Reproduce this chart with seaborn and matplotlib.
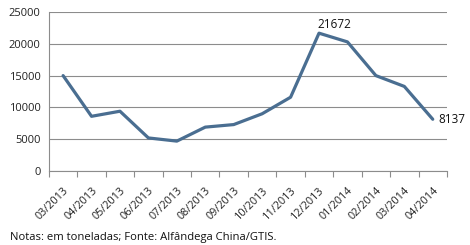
import matplotlib
matplotlib.use("Agg")
import matplotlib.pyplot as plt
import seaborn as sns
import pandas as pd
import numpy as np

months = ["03/2013", "04/2013", "05/2013", "06/2013", "07/2013", "08/2013", "09/2013",
          "10/2013", "11/2013", "12/2013", "01/2014", "02/2014", "03/2014", "04/2014"]
values = [15000, 8600, 9400, 5200, 4700, 6900, 7300, 9000, 11600, 21672, 20300, 15000, 13300, 8137]
yticks = [0, 5000, 10000, 15000, 20000, 25000]
note = "Notas: em toneladas; Fonte: Alfândega China/GTIS."

sns.set_style("white")
plt.rcParams['font.family'] = ['Open Sans', 'DejaVu Sans']

df = pd.DataFrame({"pos": np.arange(len(months)), "month": months, "value": values})

fig = plt.figure(figsize=(4.7, 2.45), dpi=100)
ax = fig.add_axes([0.104, 0.302, 0.847, 0.649])
sns.lineplot(data=df, x="pos", y="value", ax=ax, color="#4a6e91", linewidth=2.3)

ax.set_xlim(-0.5, len(months) - 0.5)
ax.set_ylim(0, 25000)
ax.set_yticks(yticks)
ax.set_yticklabels([str(v) for v in yticks], fontsize=8, color="#222222")
ax.yaxis.grid(True, color="#8c8c8c", linewidth=0.8)
ax.set_axisbelow(True)
ax.set_xticks(df["pos"])
ax.set_xticklabels(months, rotation=45, ha="right", rotation_mode="anchor", fontsize=7.8, color="#222222")
ax.set_xticks(np.arange(-0.5, len(months), 1.0), minor=True)
ax.tick_params(axis="x", which="major", length=0, pad=10)
ax.tick_params(axis="x", which="minor", length=4, color="#8c8c8c", width=0.8, direction="out", bottom=True)
ax.tick_params(axis="y", length=0, pad=6)
ax.set_xlabel("")
ax.set_ylabel("")
for s in ["top", "right"]:
    ax.spines[s].set_visible(False)
for s in ["left", "bottom"]:
    ax.spines[s].set_color("#8c8c8c")
    ax.spines[s].set_linewidth(0.8)

imax = int(np.argmax(values))
ax.annotate(str(values[imax]), (df["pos"][imax], values[imax]), xytext=(-1, 1.5),
            textcoords="offset points", ha="left", va="bottom", fontsize=8.5, color="#111111")
ilast = len(values) - 1
ax.annotate(str(values[ilast]), (df["pos"][ilast], values[ilast]), xytext=(4, 0),
            textcoords="offset points", ha="left", va="center", fontsize=8.5, color="#111111")

fig.text(10 / 470, 1 - 237 / 245, note, fontsize=8.1, color="#111111", va="center", ha="left")

fig.savefig("out.png", dpi=100)
